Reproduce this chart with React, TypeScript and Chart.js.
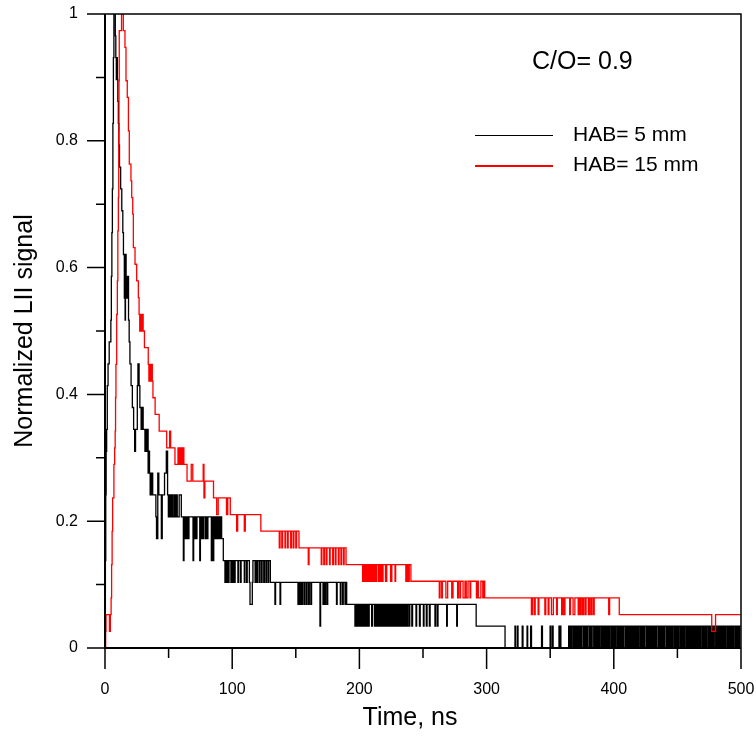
import { useEffect, useRef } from 'react';
import { Chart, registerables } from 'chart.js';

Chart.register(...registerables);

const FONT = "'Liberation Sans', Arial, Helvetica, sans-serif";

const xTicks = [0, 100, 200, 300, 400, 500];
const yTicks = [0, 0.2, 0.4, 0.6, 0.8, 1];
const xTitle = 'Time, ns';
const yTitle = 'Normalized LII signal';
const annotationText = 'C/O= 0.9';
const seriesLabels = ['HAB= 5 mm', 'HAB= 15 mm'];
const seriesColors = ['#000000', '#ff0000'];

// raw digitizer counts [time ns, count]; each value holds until the next time
const hab5Counts: [number, number][] = [
  [0, 0], [0.3, 4], [0.6, 7], [0.9, 9], [1.3, 10], [1.8, 12], [2.4, 13], [3.3, 14], [4.6, 15], [5.0, 17],
  [5.4, 19], [5.8, 21], [6.2, 24], [6.6, 27], [7.0, 29], [8.1, 28], [8.5, 27], [8.9, 26], [9.3, 27], [9.7, 26],
  [10.1, 25], [10.5, 24], [10.9, 23], [11.4, 22], [12.3, 21], [13.2, 20], [14.0, 19], [14.5, 18], [15.2, 16], [15.5, 18],
  [15.8, 15], [16.1, 18], [16.6, 17], [17.0, 16], [17.4, 17], [17.8, 16], [18.2, 17], [18.5, 15], [19.0, 14], [19.6, 13],
  [20.5, 12], [21.5, 11], [22.5, 10], [23.3, 9], [24.0, 10], [25.4, 12], [25.9, 13], [26.8, 12], [27.4, 11], [28.4, 10],
  [28.8, 11], [29.2, 10], [29.6, 11], [30.0, 10], [31.4, 9], [32.4, 10], [32.9, 9], [33.4, 10], [33.9, 8], [34.5, 9],
  [35.0, 8], [35.5, 7], [36.0, 8], [36.5, 7], [37.0, 8], [37.5, 7], [40.0, 6], [40.5, 5], [41.5, 8], [42.3, 7],
  [44.3, 5], [45.0, 7], [46.8, 8], [48.2, 9], [49.2, 7], [49.8, 6], [50.8, 7], [51.5, 6], [52.5, 7], [53.2, 6],
  [54.3, 7], [55.0, 6], [56.0, 7], [56.8, 6], [58.3, 7], [60.0, 6], [61.6, 4], [62.1, 6], [63.0, 5], [63.5, 6],
  [64.2, 5], [64.7, 6], [65.5, 5], [66.0, 6], [69.2, 4], [69.7, 6], [70.6, 5], [71.1, 6], [71.8, 5], [72.3, 6],
  [74.5, 4], [75.0, 6], [75.8, 5], [76.3, 6], [77.2, 5], [77.7, 6], [79.0, 5], [79.5, 6], [80.4, 5], [80.9, 6],
  [83.6, 4], [84.1, 6], [85.0, 4], [85.5, 6], [86.5, 5], [87.0, 6], [88.0, 5], [88.5, 6], [89.2, 5], [89.7, 6],
  [90.4, 5], [90.9, 6], [91.7, 5], [93.0, 4], [94.3, 3], [94.8, 4], [95.6, 3], [96.1, 4], [97.0, 3], [97.5, 4],
  [99.0, 3], [99.5, 4], [100.5, 3], [101.0, 4], [101.8, 3], [102.3, 4], [104.5, 3], [105.0, 4], [106.5, 3], [107.0, 4],
  [109.5, 3], [110.0, 4], [111.3, 3], [111.8, 4], [113.5, 3], [114.0, 2], [115.8, 3], [116.3, 4], [118.0, 3], [118.5, 4],
  [119.5, 3], [120.0, 4], [121.3, 3], [121.8, 4], [123.0, 3], [123.5, 4], [124.8, 3], [125.3, 4], [126.5, 3], [127.0, 4],
  [128.2, 3], [128.7, 4], [130.0, 3], [133.6, 2], [134.1, 3], [137.6, 2], [138.1, 3], [151.7, 2], [152.3, 3], [153.2, 2],
  [153.8, 3], [154.7, 2], [155.3, 3], [156.5, 2], [157.0, 3], [158.2, 2], [158.8, 3], [160.0, 2], [160.6, 3], [161.8, 2],
  [162.4, 3], [169.0, 1], [169.5, 3], [171.4, 2], [172.0, 3], [172.8, 2], [173.4, 3], [174.5, 2], [175.1, 3], [182.0, 2],
  [182.5, 3], [185.0, 2], [185.5, 3], [186.8, 2], [187.3, 3], [188.7, 2], [189.2, 3], [190.0, 2], [196.5, 1], [197.1, 2],
  [197.8, 1], [198.5, 2], [199.0, 1], [199.8, 2], [200.4, 1], [200.9, 2], [201.7, 1], [202.5, 2], [203.0, 1], [203.6, 2],
  [204.4, 1], [205.2, 2], [205.7, 1], [206.4, 2], [207.1, 1], [207.7, 2], [209.6, 1], [210.2, 2], [211.8, 1], [212.3, 2],
  [213.2, 1], [214.0, 2], [214.6, 1], [215.1, 2], [215.9, 1], [216.8, 2], [217.3, 1], [218.0, 2], [218.8, 1], [219.4, 2],
  [220.1, 1], [221.0, 2], [221.5, 1], [222.2, 2], [223.0, 1], [223.6, 2], [224.3, 1], [225.2, 2], [225.8, 1], [226.4, 2],
  [227.3, 1], [227.9, 2], [228.6, 1], [229.5, 2], [230.1, 1], [230.7, 2], [231.6, 1], [232.3, 2], [233.0, 1], [233.5, 2],
  [234.4, 1], [235.2, 2], [235.8, 1], [236.5, 2], [237.4, 1], [238.0, 2], [239.1, 1], [239.6, 2], [241.2, 1], [241.8, 2],
  [244.5, 1], [245.0, 2], [247.2, 1], [247.8, 2], [250.3, 1], [250.8, 2], [252.6, 1], [253.2, 2], [255.0, 1], [255.6, 2],
  [259.4, 1], [259.9, 2], [261.2, 1], [261.8, 2], [268.6, 1], [269.1, 2], [276.5, 1], [277.0, 2], [291.8, 1], [314.5, 0],
  [322.3, 1], [322.8, 0], [324.2, 1], [324.7, 0], [328.0, 1], [328.6, 0], [331.8, 1], [332.3, 0], [334.6, 1], [335.3, 0],
  [343.2, 1], [343.9, 0], [349.9, 1], [350.5, 0], [351.7, 1], [352.3, 0], [356.9, 1], [357.4, 0], [357.9, 1], [358.4, 0],
  [364.5, 1], [365.2, 0], [365.9, 1], [366.8, 0], [367.3, 1], [368.4, 0], [369.0, 1], [369.6, 0], [370.5, 1], [371.5, 0],
  [372.0, 1], [372.8, 0], [373.6, 1], [374.1, 0], [375.0, 1], [376.2, 0], [376.8, 1], [377.5, 0], [378.4, 1], [379.0, 0],
  [379.7, 1], [380.9, 0], [381.5, 1], [382.1, 0], [383.0, 1], [384.2, 0], [384.7, 1], [385.5, 0], [386.4, 1], [387.0, 0],
  [387.9, 1], [388.6, 0], [389.2, 1], [390.3, 0], [391.0, 1], [391.6, 0], [392.5, 1], [393.4, 0], [394.0, 1], [394.7, 0],
  [395.6, 1], [396.2, 0], [397.1, 1], [398.2, 0], [398.8, 1], [399.5, 0], [400.4, 1], [401.1, 0], [401.8, 1], [402.9, 0],
  [403.5, 1], [404.2, 0], [405.2, 1], [405.8, 0], [406.7, 1], [407.5, 0], [408.1, 1], [409.3, 0], [409.9, 1], [410.6, 0],
  [411.6, 1], [412.2, 0], [413.0, 1], [414.0, 0], [414.6, 1], [415.3, 0], [416.3, 1], [416.9, 0], [417.8, 1], [418.7, 0],
  [419.3, 1], [420.4, 0], [421.0, 1], [421.8, 0], [422.7, 1], [423.2, 0], [424.1, 1], [425.3, 0], [425.9, 1], [426.5, 0],
  [427.5, 1], [428.3, 0], [428.9, 1], [429.8, 0], [430.7, 1], [431.3, 0], [432.2, 1], [433.1, 0], [433.7, 1], [434.9, 0],
  [435.5, 1], [436.1, 0], [437.0, 1], [437.8, 0], [438.6, 1], [439.2, 0], [440.1, 1], [441.3, 0], [441.9, 1], [442.6, 0],
  [443.5, 1], [444.1, 0], [445.0, 1], [445.9, 0], [446.5, 1], [447.6, 0], [448.2, 1], [448.8, 0], [449.7, 1], [450.6, 0],
  [451.2, 1], [452.3, 0], [452.9, 1], [453.5, 0], [454.4, 1], [455.2, 0], [455.8, 1], [456.9, 0], [457.5, 1], [458.1, 0],
  [459.0, 1], [459.9, 0], [460.5, 1], [461.4, 0], [462.0, 1], [462.7, 0], [463.6, 1], [464.6, 0], [465.2, 1], [465.8, 0],
  [466.7, 1], [467.6, 0], [468.2, 1], [469.3, 0], [469.9, 1], [470.5, 0], [471.4, 1], [472.2, 0], [472.8, 1], [473.9, 0],
  [474.5, 1], [475.1, 0], [476.0, 1], [476.9, 0], [477.5, 1], [478.4, 0], [479.0, 1], [480.1, 0], [480.7, 1], [481.3, 0],
  [482.2, 1], [483.1, 0], [483.7, 1], [484.6, 0], [485.2, 1], [486.1, 0], [486.7, 1], [487.6, 0], [488.2, 1], [489.3, 0],
  [489.9, 1], [490.5, 0], [491.4, 1], [492.3, 0], [492.9, 1], [493.8, 0], [494.4, 1], [495.5, 0], [496.1, 1], [496.7, 0],
  [497.6, 1], [498.5, 0], [499.1, 1], [500.0, 1],
];

const hab15Counts: [number, number][] = [
  [0, 0], [0.5, 1], [0.8, 2], [3.5, 1], [4.2, 2], [4.8, 3], [5.2, 5], [5.6, 7], [6.0, 9], [7.0, 11],
  [7.6, 12], [8.0, 13], [8.3, 15], [8.6, 17], [9.2, 20], [9.7, 22], [10.1, 25], [10.5, 27], [10.8, 31], [11.0, 34],
  [11.2, 37], [13.0, 38], [14.4, 37], [15.7, 36], [16.5, 34], [17.5, 33], [18.4, 31], [19.1, 29], [20.4, 28], [21.0, 27],
  [21.8, 26], [22.3, 24], [23.6, 23], [24.9, 22], [26.2, 21], [26.8, 20], [27.3, 19], [27.7, 20], [28.2, 19], [28.6, 20],
  [29.1, 19], [29.5, 20], [30.0, 19], [31.0, 18], [34.0, 17], [34.5, 16], [34.9, 17], [35.4, 16], [35.8, 17], [36.3, 16],
  [36.7, 17], [37.2, 16], [37.7, 15], [39.4, 14], [42.6, 13], [48.5, 12], [50.8, 13], [51.6, 12], [55.0, 11], [57.4, 12],
  [58.0, 11], [58.6, 12], [59.2, 11], [60.0, 12], [60.6, 11], [61.4, 12], [62.0, 11], [64.5, 10], [67.8, 11], [69.0, 10],
  [77.2, 11], [77.8, 9], [78.5, 10], [85.3, 9], [87.8, 8], [89.0, 9], [95.5, 8], [96.5, 9], [98.5, 8], [103.5, 7],
  [104.3, 8], [109.5, 7], [110.3, 8], [122.5, 7], [137.0, 6], [137.6, 7], [139.0, 6], [139.6, 7], [141.5, 6], [142.0, 7],
  [143.5, 6], [144.0, 7], [146.0, 6], [146.6, 7], [148.0, 6], [148.5, 7], [150.0, 6], [150.6, 7], [152.5, 6], [159.8, 5],
  [160.4, 6], [170.0, 5], [170.5, 6], [172.0, 5], [172.6, 6], [174.0, 5], [174.5, 6], [176.5, 5], [177.0, 6], [179.0, 5],
  [179.5, 6], [181.0, 5], [181.6, 6], [183.5, 5], [184.0, 6], [185.5, 5], [186.0, 6], [187.5, 5], [188.0, 6], [189.5, 5],
  [202.5, 4], [203.0, 5], [204.0, 4], [204.6, 5], [205.5, 4], [206.0, 5], [207.0, 4], [207.6, 5], [208.5, 4], [209.0, 5],
  [210.0, 4], [210.6, 5], [211.5, 4], [212.0, 5], [213.0, 4], [213.6, 5], [215.0, 4], [215.5, 5], [216.5, 4], [217.1, 5],
  [218.0, 4], [218.6, 5], [220.5, 4], [221.5, 5], [224.5, 4], [225.5, 5], [228.0, 4], [228.5, 5], [236.5, 4], [237.5, 5],
  [238.5, 4], [239.2, 5], [240.5, 4], [262.8, 3], [263.4, 4], [264.7, 3], [265.2, 4], [268.0, 3], [269.4, 4], [272.6, 3],
  [273.6, 4], [277.2, 3], [277.8, 4], [279.0, 3], [279.5, 4], [281.5, 3], [283.0, 4], [284.0, 3], [285.4, 4], [287.0, 3],
  [287.5, 4], [292.0, 3], [292.5, 4], [293.5, 3], [295.5, 4], [297.0, 3], [297.6, 4], [298.5, 3], [335.2, 2], [336.0, 3],
  [337.4, 2], [338.2, 3], [340.5, 2], [341.1, 3], [345.8, 2], [346.5, 3], [348.4, 2], [349.0, 3], [351.0, 2], [352.5, 3],
  [355.0, 2], [355.6, 3], [359.0, 2], [359.7, 3], [360.6, 2], [361.6, 3], [365.3, 2], [365.9, 3], [368.0, 2], [369.4, 3],
  [372.0, 2], [372.8, 3], [373.6, 2], [374.4, 3], [375.5, 2], [376.3, 3], [377.5, 2], [378.2, 3], [380.0, 2], [380.8, 3],
  [381.9, 2], [382.6, 3], [383.8, 2], [384.6, 3], [396.0, 2], [396.7, 3], [404.3, 2], [477.0, 1], [480.0, 2], [500.0, 2],
];

function normalize(counts: [number, number][]) {
  const max = Math.max(...counts.map((p) => p[1]));
  return counts.map(([x, c]) => ({ x, y: c / max }));
}

const decorPlugin = {
  id: 'decor',
  afterDraw(chart: any) {
    const { ctx, chartArea: a, scales } = chart;
    const xs = scales.x;
    const ys = scales.y;
    ctx.save();
    ctx.strokeStyle = '#000';
    // frame
    ctx.lineWidth = 1.5;
    ctx.beginPath();
    ctx.moveTo(a.left, a.top);
    ctx.lineTo(a.right, a.top);
    ctx.lineTo(a.right, a.bottom);
    ctx.stroke();
    ctx.lineWidth = 2;
    ctx.beginPath();
    ctx.moveTo(a.left, a.top);
    ctx.lineTo(a.left, a.bottom);
    ctx.lineTo(a.right, a.bottom);
    ctx.stroke();
    // ticks (major + minor midpoints)
    ctx.lineWidth = 1.5;
    ctx.beginPath();
    for (let i = 0; i < xTicks.length; i++) {
      const px = xs.getPixelForValue(xTicks[i]);
      ctx.moveTo(px, a.bottom);
      ctx.lineTo(px, a.bottom + 21);
      if (i < xTicks.length - 1) {
        const pm = xs.getPixelForValue((xTicks[i] + xTicks[i + 1]) / 2);
        ctx.moveTo(pm, a.bottom);
        ctx.lineTo(pm, a.bottom + 10);
      }
    }
    for (let i = 0; i < yTicks.length; i++) {
      const py = ys.getPixelForValue(yTicks[i]);
      ctx.moveTo(a.left, py);
      ctx.lineTo(a.left - 18, py);
      if (i < yTicks.length - 1) {
        const pm = ys.getPixelForValue((yTicks[i] + yTicks[i + 1]) / 2);
        ctx.moveTo(a.left, pm);
        ctx.lineTo(a.left - 9, pm);
      }
    }
    ctx.stroke();

    // annotation
    ctx.fillStyle = '#000';
    ctx.textAlign = 'left';
    ctx.textBaseline = 'middle';
    ctx.font = `25px ${FONT}`;
    ctx.fillText(annotationText, a.left + 427, a.top + 48);

    // legend
    const legendRows = [a.top + 121.5, a.top + 152];
    ctx.font = `21px ${FONT}`;
    for (let i = 0; i < seriesLabels.length; i++) {
      const y = legendRows[i];
      ctx.strokeStyle = seriesColors[i];
      ctx.lineWidth = i === 0 ? 1 : 2;
      ctx.beginPath();
      ctx.moveTo(a.left + 370, y);
      ctx.lineTo(a.left + 448, y);
      ctx.stroke();
      ctx.fillStyle = '#000';
      ctx.fillText(seriesLabels[i], a.left + 468, Math.round(y) - 1);
    }

    // x axis title
    ctx.font = `25px ${FONT}`;
    ctx.textAlign = 'center';
    ctx.textBaseline = 'middle';
    ctx.fillText(xTitle, (a.left + a.right) / 2 - 13, 718);
    ctx.restore();
  },
};

export default function App() {
  const ref = useRef<HTMLCanvasElement>(null);
  useEffect(() => {
    if (!ref.current) return;
    const chart = new Chart(ref.current, {
      type: 'line',
      data: {
        datasets: [
          {
            label: seriesLabels[0],
            data: normalize(hab5Counts),
            borderColor: seriesColors[0],
            borderWidth: 1.3,
            pointRadius: 0,
            stepped: true,
            order: 1,
            tension: 0,
          },
          {
            label: seriesLabels[1],
            data: normalize(hab15Counts),
            borderColor: seriesColors[1],
            borderWidth: 1.3,
            pointRadius: 0,
            stepped: true,
            order: 0,
            tension: 0,
          },
        ],
      },
      options: {
        responsive: false,
        animation: false,
        devicePixelRatio: 1,
        parsing: false,
        normalized: true,
        layout: { padding: { left: 0, right: 15, top: 14, bottom: 0 } },
        plugins: { legend: { display: false }, tooltip: { enabled: false } },
        scales: {
          x: {
            type: 'linear',
            min: 0,
            max: 500,
            grid: { display: false, drawTicks: false },
            border: { display: false },
            afterBuildTicks: (s: any) => {
              s.ticks = xTicks.map((v) => ({ value: v }));
            },
            afterFit: (s: any) => {
              s.height = 97;
              s.paddingLeft = 0;
              s.paddingRight = 0;
            },
            ticks: {
              padding: 32,
              color: '#000',
              font: { family: FONT, size: 16 },
              maxRotation: 0,
              callback: (v: any) => String(v),
            },
          },
          y: {
            type: 'linear',
            min: 0,
            max: 1,
            grid: { display: false, drawTicks: false },
            border: { display: false },
            afterBuildTicks: (s: any) => {
              s.ticks = yTicks.map((v) => ({ value: v }));
            },
            afterFit: (s: any) => {
              s.width = 105;
              s.paddingTop = 0;
              s.paddingBottom = 0;
            },
            ticks: {
              padding: 27,
              color: '#000',
              font: { family: FONT, size: 16 },
              callback: (v: any) => String(v),
            },
            title: {
              display: true,
              text: yTitle,
              color: '#000',
              font: { family: FONT, size: 25 },
              padding: { top: 10, bottom: 0 },
            },
          },
        },
      },
      plugins: [decorPlugin],
    });
    return () => chart.destroy();
  }, []);
  return (
    <div style={{ position: 'absolute', left: 0, top: 0, width: 756, height: 745, background: '#fff' }}>
      <canvas ref={ref} width={756} height={745} style={{ display: 'block' }} />
    </div>
  );
}
